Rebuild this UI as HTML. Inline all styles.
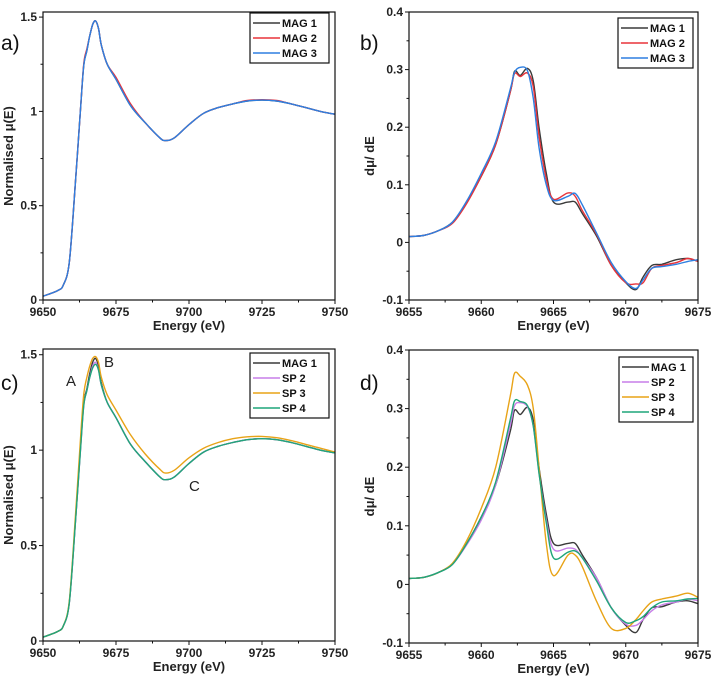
<!DOCTYPE html>
<html><head><meta charset="utf-8">
<style>
body{margin:0;background:#fff;font-family:"Liberation Sans",sans-serif;}
svg{display:block}
text{font-family:"Liberation Sans",sans-serif;}
.tk{font-size:12px;font-weight:bold;fill:#222}
.ax{font-size:13px;font-weight:bold;fill:#222}
.lg{font-size:11px;font-weight:bold;fill:#111}
.pl{font-size:21px;fill:#111}
</style></head><body>
<svg id="fig" width="715" height="684" viewBox="0 0 715 684"></svg>
<script>
// ---------- data ----------
const eA = [9650,9655,9657,9659,9661,9663,9664,9665,9666,9667,9668,9669,9670,9672,9675,9680,9685,9690,9692,9695,9700,9705,9710,9715,9720,9725,9730,9735,9740,9745,9750];
const mag1A = [0.02,0.05,0.08,0.2,0.6,1.05,1.25,1.32,1.40,1.46,1.48,1.44,1.35,1.25,1.17,1.03,0.94,0.86,0.845,0.86,0.93,0.99,1.02,1.04,1.055,1.06,1.055,1.04,1.02,1.0,0.985];
const mag2A = [0.02,0.05,0.08,0.2,0.6,1.05,1.26,1.33,1.40,1.46,1.48,1.44,1.35,1.25,1.18,1.04,0.94,0.86,0.845,0.86,0.93,0.99,1.02,1.04,1.058,1.062,1.058,1.04,1.02,1.0,0.985];
const mag3A = [0.02,0.05,0.08,0.2,0.6,1.05,1.25,1.32,1.40,1.46,1.48,1.44,1.35,1.25,1.17,1.03,0.94,0.86,0.845,0.86,0.93,0.99,1.02,1.04,1.055,1.06,1.055,1.04,1.02,1.0,0.985];
const sp2C = [0.02,0.05,0.08,0.2,0.6,1.04,1.24,1.31,1.38,1.44,1.46,1.42,1.34,1.25,1.17,1.03,0.94,0.86,0.845,0.86,0.93,0.99,1.02,1.04,1.055,1.06,1.055,1.04,1.02,1.0,0.985];
const sp3C = [0.02,0.05,0.08,0.21,0.63,1.10,1.30,1.38,1.44,1.48,1.49,1.46,1.38,1.29,1.21,1.08,0.98,0.90,0.88,0.895,0.96,1.01,1.04,1.06,1.07,1.072,1.065,1.05,1.03,1.01,0.99];
const sp4C = [0.02,0.05,0.08,0.2,0.6,1.04,1.24,1.31,1.38,1.43,1.45,1.42,1.34,1.25,1.17,1.03,0.94,0.86,0.845,0.86,0.93,0.99,1.02,1.04,1.055,1.06,1.055,1.04,1.02,1.0,0.985];

const eB1 = [9655,9656,9657,9658,9659,9660,9661,9662,9662.3,9662.7,9663.2,9663.6,9664,9664.5,9665,9666,9666.5,9667,9668,9669,9670,9670.7,9671.2,9671.8,9672.5,9673.5,9674.3,9675];
const mag1B = [0.01,0.012,0.02,0.035,0.07,0.115,0.17,0.26,0.297,0.29,0.302,0.28,0.2,0.12,0.07,0.07,0.07,0.05,0.01,-0.04,-0.07,-0.082,-0.06,-0.04,-0.038,-0.03,-0.028,-0.033];
const mag2B = [0.01,0.012,0.02,0.033,0.068,0.115,0.17,0.26,0.293,0.288,0.294,0.27,0.185,0.11,0.075,0.086,0.08,0.055,0.013,-0.04,-0.07,-0.072,-0.07,-0.045,-0.04,-0.035,-0.028,-0.033];
const mag3B = [0.01,0.012,0.02,0.035,0.072,0.12,0.175,0.265,0.295,0.304,0.298,0.25,0.165,0.1,0.073,0.08,0.085,0.065,0.015,-0.035,-0.068,-0.08,-0.065,-0.045,-0.042,-0.038,-0.033,-0.03];
const sp2D = [0.01,0.012,0.02,0.034,0.068,0.11,0.17,0.27,0.305,0.31,0.303,0.27,0.19,0.11,0.06,0.062,0.06,0.045,0.01,-0.04,-0.068,-0.07,-0.06,-0.045,-0.035,-0.03,-0.025,-0.028];
const sp3D = [0.01,0.012,0.02,0.036,0.075,0.13,0.2,0.32,0.36,0.355,0.34,0.30,0.2,0.07,0.015,0.05,0.05,0.03,-0.03,-0.075,-0.075,-0.06,-0.045,-0.03,-0.025,-0.02,-0.015,-0.022];
const sp4D = [0.01,0.012,0.02,0.034,0.07,0.115,0.175,0.28,0.313,0.312,0.305,0.27,0.19,0.105,0.045,0.055,0.057,0.045,0.005,-0.04,-0.065,-0.062,-0.055,-0.04,-0.03,-0.028,-0.025,-0.024];

const ticksAX = [9650,9675,9700,9725,9750];
const ticksAY = [0,0.5,1,1.5];
const tickLabAY = ["0","0.5","1","1.5"];
const ticksBX = [9655,9660,9665,9670,9675];
const ticksBY = [-0.1,0,0.1,0.2,0.3,0.4];
const tickLabBY = ["-0.1","0","0.1","0.2","0.3","0.4"];

// ---------- drawing ----------
const svg = document.getElementById('fig');
const NS = 'http://www.w3.org/2000/svg';
function mk(tag, attrs, parent){const el=document.createElementNS(NS,tag);for(const k in attrs)el.setAttribute(k,attrs[k]);(parent||svg).appendChild(el);return el;}
function smooth(pts){let d='M'+pts[0][0].toFixed(1)+','+pts[0][1].toFixed(1);
 for(let i=0;i<pts.length-1;i++){const p0=pts[Math.max(0,i-1)],p1=pts[i],p2=pts[i+1],p3=pts[Math.min(pts.length-1,i+2)];
  const c1=[p1[0]+(p2[0]-p0[0])/6,p1[1]+(p2[1]-p0[1])/6],c2=[p2[0]-(p3[0]-p1[0])/6,p2[1]-(p3[1]-p1[1])/6];
  d+='C'+c1[0].toFixed(1)+','+c1[1].toFixed(1)+' '+c2[0].toFixed(1)+','+c2[1].toFixed(1)+' '+p2[0].toFixed(1)+','+p2[1].toFixed(1);}
 return d;}

function panel(o){
 const g=mk('g',{});
 
 
 const sx=v=>o.x0+(v-o.xmin)/(o.xmax-o.xmin)*(o.x1-o.x0);
 const sy=v=>o.y0-(v-o.ymin)/(o.ymax-o.ymin)*(o.y0-o.y1);
 o.series.forEach(s=>{
  const p=mk('path',{d:smooth(s.x.map((xv,i)=>[sx(xv),sy(s.y[i])])),fill:'none',stroke:s.c,'stroke-width':1.4},g);
  
  
 });
 const f=mk('rect',{x:o.x0,y:o.y1,width:o.x1-o.x0,height:o.y0-o.y1,fill:'none',stroke:'#111','stroke-width':1.2},g);
 
 
 o.tx.forEach((t,i)=>{
  mk('line',{x1:sx(t),x2:sx(t),y1:o.y0,y2:o.y0+4,stroke:'#111'},g);
  if(i<o.tx.length-1){const m=sx(t+(o.tx[1]-o.tx[0])/2);mk('line',{x1:m,x2:m,y1:o.y0,y2:o.y0+2.5,stroke:'#111'},g);}
  const tl=mk('text',{x:sx(t),y:o.y0+16,'text-anchor':'middle',class:'tk'},g);tl.textContent=t;
  
  
 });
 o.ty.forEach((t,i)=>{
  mk('line',{x1:o.x0-4,x2:o.x0,y1:sy(t),y2:sy(t),stroke:'#111'},g);
  if(i<o.ty.length-1){const m=sy(t+(o.ty[1]-o.ty[0])/2);mk('line',{x1:o.x0-2.5,x2:o.x0,y1:m,y2:m,stroke:'#111'},g);}
  const tl=mk('text',{x:o.x0-6,y:sy(t)+4,'text-anchor':'end',class:'tk'},g);tl.textContent=o.tyl[i];
  
  
 });
 const xt=mk('text',{x:(o.x0+o.x1)/2,y:o.y0+30,'text-anchor':'middle',class:'ax'},g);xt.textContent='Energy (eV)';
 
 
 const yc=(o.y0+o.y1)/2;
 const yt=mk('text',{x:o.ytx,y:yc,'text-anchor':'middle',class:'ax',transform:'rotate(-90 '+o.ytx+' '+yc+')'},g);yt.textContent=o.ytitle;
 
 
 const pl=mk('text',{x:o.lx,y:o.ly,class:'pl'},g);pl.textContent=o.label;
 
 
 const lg=mk('g',{},g);
 
 
 const lh=o.series.length*15+5;
 mk('rect',{x:o.lgx,y:o.lgy,width:o.lgw,height:lh,fill:'#fff',stroke:'#111','stroke-width':1.2},lg);
 o.series.forEach((s,i)=>{
  const yy=o.lgy+10+i*15;
  mk('line',{x1:o.lgx+3,x2:o.lgx+30,y1:yy,y2:yy,stroke:s.c,'stroke-width':1.6},lg);
  const t=mk('text',{x:o.lgx+32,y:yy+4,class:'lg'},lg);t.textContent=s.n;
  
  
 });
 return {sx,sy,g};
}
const cK='#3a3a3a',cR='#e8333a',cB='#2e7fe0',cP='#c77ee8',cO='#e8a317',cG='#1fa67a';
const yMu='Normalised \u03bc(E)', yD='d\u03bc/ dE';
panel({name:'panel-a',x0:43,x1:335,y0:300,y1:12,xmin:9650,xmax:9750,ymin:0,ymax:1.527,tx:ticksAX,ty:ticksAY,tyl:tickLabAY,ytitle:yMu,ytx:13,label:'a)',lx:1,ly:50,lgx:250,lgy:13,lgw:79,
 series:[{n:'MAG 1',x:eA,y:mag1A,c:cK},{n:'MAG 2',x:eA,y:mag2A,c:cR},{n:'MAG 3',x:eA,y:mag3A,c:cB}]});
panel({name:'panel-b',x0:409,x1:698,y0:300,y1:12,xmin:9655,xmax:9675,ymin:-0.1,ymax:0.4,tx:ticksBX,ty:ticksBY,tyl:tickLabBY,ytitle:yD,ytx:374,label:'b)',lx:360,ly:50,lgx:618,lgy:18,lgw:75,
 series:[{n:'MAG 1',x:eB1,y:mag1B,c:cK},{n:'MAG 2',x:eB1,y:mag2B,c:cR},{n:'MAG 3',x:eB1,y:mag3B,c:cB}]});
const pc=panel({name:'panel-c',x0:43,x1:335,y0:641,y1:349,xmin:9650,xmax:9750,ymin:0,ymax:1.53,tx:ticksAX,ty:ticksAY,tyl:tickLabAY,ytitle:yMu,ytx:13,label:'c)',lx:1,ly:390,lgx:250,lgy:353,lgw:79,
 series:[{n:'MAG 1',x:eA,y:mag1A,c:cK},{n:'SP 2',x:eA,y:sp2C,c:cP},{n:'SP 3',x:eA,y:sp3C,c:cO},{n:'SP 4',x:eA,y:sp4C,c:cG}]});
[['A',66,386],['B',104,367],['C',189,491]].forEach(a=>{const t=mk('text',{x:a[1],y:a[2],'font-size':15,fill:'#222'},pc.g);t.textContent=a[0];
 
 });
panel({name:'panel-d',x0:409,x1:698,y0:643,y1:350,xmin:9655,xmax:9675,ymin:-0.1,ymax:0.4,tx:ticksBX,ty:ticksBY,tyl:tickLabBY,ytitle:yD,ytx:374,label:'d)',lx:360,ly:390,lgx:619,lgy:357,lgw:74,
 series:[{n:'MAG 1',x:eB1,y:mag1B,c:cK},{n:'SP 2',x:eB1,y:sp2D,c:cP},{n:'SP 3',x:eB1,y:sp3D,c:cO},{n:'SP 4',x:eB1,y:sp4D,c:cG}]});
</script>
</body></html>
